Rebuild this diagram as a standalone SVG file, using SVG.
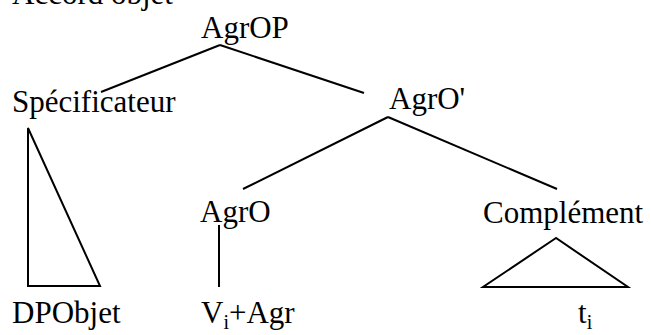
<svg xmlns="http://www.w3.org/2000/svg" width="651" height="335" viewBox="0 0 651 335">
<style>
text{font-family:"Liberation Serif","Times New Roman",serif;font-size:31px;fill:#000}
.sub{font-size:20px}
line,polygon{stroke:#000;stroke-width:2;fill:none}
</style>
<rect width="651" height="335" fill="#fff"/>
<text x="12" y="4">Accord objet</text>
<g id="agrop"><text x="201" y="38">AgrOP</text></g>
<g id="spec"><text x="12" y="112">Spécificateur</text></g>
<g id="agrobar"><text x="389" y="109">AgrO'</text></g>
<g id="agro"><text x="200" y="222">AgrO</text></g>
<g id="complement"><text x="483" y="223">Complément</text></g>
<g id="dpobjet"><text x="12" y="323">DPObjet</text></g>
<g id="vagr"><text x="201" y="323">V<tspan class="sub" dy="6">i</tspan><tspan dy="-6">+Agr</tspan></text></g>
<g id="ti"><text x="578" y="323">t<tspan class="sub" dy="6">i</tspan></text></g>
<g id="connectors">
<line x1="220" y1="45" x2="101" y2="92"/>
<line x1="220" y1="45" x2="364" y2="93"/>
<line x1="388" y1="117" x2="243" y2="189"/>
<line x1="388" y1="117" x2="557" y2="189"/>
<line x1="219" y1="225" x2="219" y2="287"/>
<polygon points="28,128 28,286 100,286"/>
<polygon points="556,238 483,287 628,287"/>
</g>
</svg>
